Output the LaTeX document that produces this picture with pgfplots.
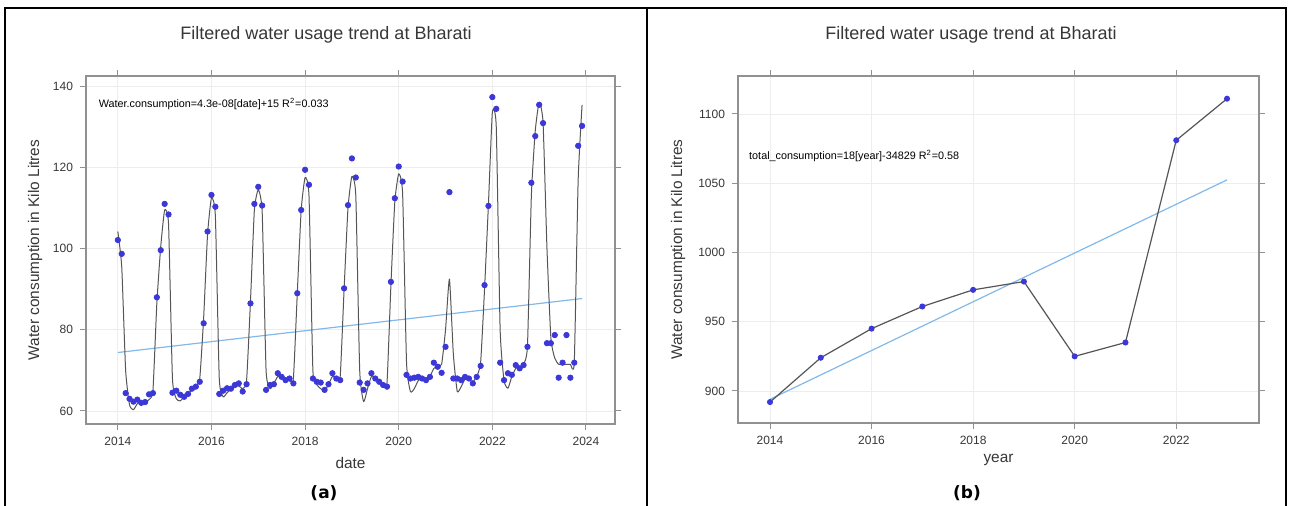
\documentclass[border=0pt]{standalone}
\usepackage{pgfplots}
\pgfplotsset{compat=1.18}
\usepackage{pgfplotstable}
\usepackage{fontspec}
\setmainfont{Liberation Sans}
\newfontfamily\capfont{DejaVu Sans}
\definecolor{ptblue}{RGB}{60,55,215}
\definecolor{trendblue}{RGB}{130,185,235}
\definecolor{smoothgray}{RGB}{85,85,85}
\definecolor{boxgray}{RGB}{145,145,145}
\definecolor{txtgray}{RGB}{55,55,55}

\pgfplotstableread{
y m p l
2014 1 102.1 104.2
2014 2 98.7 95.5
2014 3 64.4 70.0
2014 4 63.0 61.5
2014 5 62.3 60.3
2014 6 62.8 61.8
2014 7 62.0 62.3
2014 8 62.2 62.0
2014 9 64.1 62.8
2014 10 64.4 65.0
2014 11 88.0 86.5
2014 12 99.6 100.5
2015 1 111.0 109.5
2015 2 108.4 106.0
2015 3 64.5 68.0
2015 4 65.0 63.0
2015 5 64.0 62.5
2015 6 63.5 63.5
2015 7 64.2 64.2
2015 8 65.5 65.2
2015 9 66.0 66.0
2015 10 67.2 68.0
2015 11 81.6 83.0
2015 12 104.2 103.5
2016 1 113.2 112.5
2016 2 110.3 108.0
2016 3 64.2 68.0
2016 4 65.0 63.5
2016 5 65.6 64.5
2016 6 65.5 65.3
2016 7 66.4 66.0
2016 8 66.8 66.2
2016 9 64.8 65.5
2016 10 66.6 67.5
2016 11 86.5 87.0
2016 12 111.0 109.5
2017 1 115.2 114.5
2017 2 110.6 109.0
2017 3 65.2 70.0
2017 4 66.4 65.5
2017 5 66.6 66.8
2017 6 69.3 68.5
2017 7 68.4 68.3
2017 8 67.6 67.8
2017 9 68.0 67.5
2017 10 66.8 68.0
2017 11 89.0 89.0
2017 12 109.5 109.5
2018 1 119.4 117.5
2018 2 115.7 113.0
2018 3 68.0 70.0
2018 4 67.2 66.5
2018 5 67.0 65.5
2018 6 65.2 65.0
2018 7 66.6 66.5
2018 8 69.3 68.5
2018 9 68.0 68.2
2018 10 67.6 68.5
2018 11 90.2 90.0
2018 12 110.7 110.0
2019 1 122.2 117.8
2019 2 117.5 113.0
2019 3 67.0 70.0
2019 4 65.2 62.3
2019 5 66.8 65.5
2019 6 69.3 68.5
2019 7 68.0 68.0
2019 8 67.2 67.0
2019 9 66.4 66.3
2019 10 66.0 67.0
2019 11 91.8 91.0
2019 12 112.4 111.5
2020 1 120.2 118.4
2020 2 116.5 113.5
2020 3 68.9 72.0
2020 4 68.0 64.8
2020 5 68.2 65.5
2020 6 68.4 67.5
2020 7 68.0 68.0
2020 8 67.6 67.8
2020 9 68.4 68.5
2020 10 71.9 70.5
2020 11 70.9 71.0
2020 12 69.4 71.5
2021 1 75.8 80.0
2021 2 113.9 92.5
2021 3 68.0 74.0
2021 4 68.0 64.8
2021 5 67.6 66.0
2021 6 68.4 67.8
2021 7 68.0 67.8
2021 8 66.8 67.2
2021 9 68.4 68.5
2021 10 71.1 72.0
2021 11 91.0 90.0
2021 12 110.5 111.0
2022 1 137.3 133.5
2022 2 134.4 130.0
2022 3 71.9 80.0
2022 4 67.6 67.5
2022 5 69.3 65.6
2022 6 68.9 68.5
2022 7 71.3 70.5
2022 8 70.5 70.8
2022 9 71.3 71.5
2022 10 75.8 76.0
2022 11 116.2 113.0
2022 12 127.7 129.0
2023 1 135.4 136.0
2023 2 130.9 131.0
2023 3 76.7 100.0
2023 4 76.7 78.0
2023 5 78.7 73.0
2023 6 68.2 71.5
2023 7 71.9 71.5
2023 8 78.7 71.5
2023 9 68.2 71.5
2023 10 71.9 72.0
2023 11 125.3 117.0
2023 12 130.2 135.4
}\monthly

\pgfplotstableread{
year total
2014 892
2015 924
2016 945
2017 961
2018 973
2019 979
2020 925
2021 935
2022 1081
2023 1111
}\yearly

\pgfplotsset{
  panel/.style={
    scale only axis,
    axis line style={boxgray, line width=0.6pt},
    tick align=outside,
    xtick pos=both, ytick pos=both,
    xticklabel pos=lower, yticklabel pos=left,
    major tick length=3pt,
    tick style={boxgray, line width=0.5pt},
    grid=major,
    major grid style={black!7, line width=0.4pt},
    ticklabel style={font=\fontsize{6}{7}\selectfont, text=txtgray},
    /pgf/number format/assume math mode=true,
    /pgf/number format/1000 sep={},
    label style={font=\fontsize{7.7}{9}\selectfont, text=txtgray},
  }
}

\begin{document}
\begin{tikzpicture}
\useasboundingbox (0,0) rectangle (645pt,253pt);
\draw[line width=1pt] (2.5pt,0) -- (2.5pt,248.75pt) -- (643pt,248.75pt) -- (643pt,0);
\draw[line width=1pt] (323.5pt,0) -- (323.5pt,248.75pt);

\node[font=\fontsize{9}{11}\selectfont, text=txtgray] at (163pt,235.5pt) {Filtered water usage trend at Bharati};
\node[font=\fontsize{9}{11}\selectfont, text=txtgray] at (485.5pt,235.5pt) {Filtered water usage trend at Bharati};
\node[font=\capfont\bfseries\fontsize{8.5}{10}\selectfont] at (162pt,6.5pt) {(a)};
\node[font=\capfont\bfseries\fontsize{8.5}{10}\selectfont] at (483.5pt,6.5pt) {(b)};

\begin{axis}[panel,
  at={(43pt,41pt)}, anchor=south west,
  width=264.5pt, height=174pt,
  xmin=2013.32, xmax=2024.62, ymin=56.8, ymax=142.5,
  xtick={2014,2016,...,2024}, ytick={60,80,...,140},
  xlabel={date}, ylabel={Water consumption in Kilo Litres},
  xlabel style={at={(axis description cs:0.5,-0.112)}, anchor=center},
  ylabel style={at={(axis description cs:-0.096,0.5)}, anchor=center, rotate=0},
]
\addplot[trendblue, line width=0.6pt] coordinates {(2014,74.4) (2023.92,87.7)};
\addplot[smoothgray, line width=0.5pt, line join=round, smooth, tension=0.3] table[x expr={\thisrow{y}+(\thisrow{m}-1)/12}, y=l] {\monthly};
\addplot[only marks, mark=*, mark size=1.35pt, ptblue, mark options={draw=ptblue, fill=ptblue}] table[x expr={\thisrow{y}+(\thisrow{m}-1)/12}, y=p] {\monthly};
\node[anchor=west, font=\fontsize{5.4}{6}\selectfont, text=black] at (rel axis cs:0.011,0.92) {Water.consumption=4.3e-08[date]+15 R\textsuperscript{2}=0.033};
\end{axis}

\begin{axis}[panel,
  at={(369pt,41.5pt)}, anchor=south west,
  width=260.5pt, height=173.5pt,
  xmin=2013.37, xmax=2023.63, ymin=876.9, ymax=1127.4,
  xtick={2014,2016,...,2022}, ytick={900,950,...,1100},
  xlabel={year}, ylabel={Water consumption in Kilo Litres},
  xlabel style={at={(axis description cs:0.5,-0.107)}, anchor=center},
  ylabel style={at={(axis description cs:-0.115,0.5)}, anchor=center},
]
\addplot[trendblue, line width=0.6pt] coordinates {(2014,894) (2023,1052.4)};
\addplot[smoothgray, line width=0.6pt, mark=*, mark size=1.2pt, mark options={draw=ptblue, fill=ptblue}] table[x=year, y=total] {\yearly};
\node[anchor=west, font=\fontsize{5.4}{6}\selectfont, text=black] at (rel axis cs:0.008,0.77) {total\_consumption=18[year]-34829 R\textsuperscript{2}=0.58};
\end{axis}
\end{tikzpicture}
\end{document}
